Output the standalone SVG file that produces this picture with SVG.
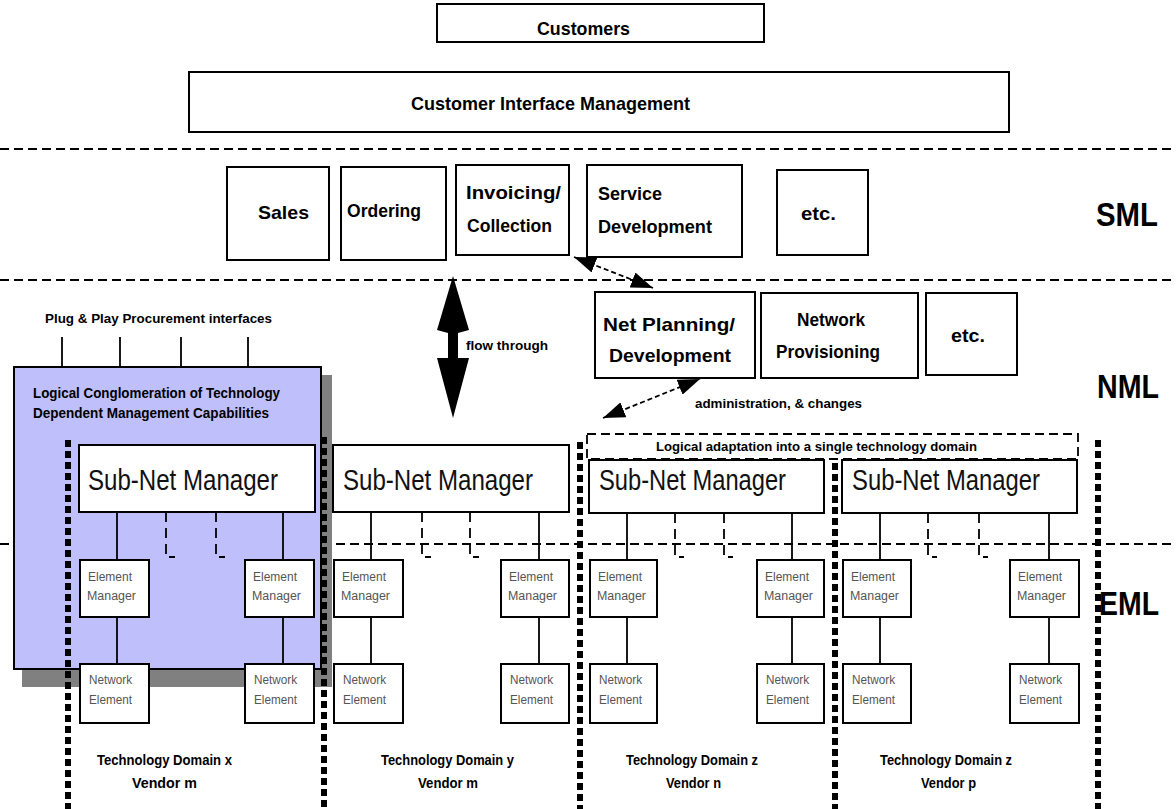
<svg xmlns="http://www.w3.org/2000/svg" width="1176" height="809" viewBox="0 0 1176 809">
  <defs>
    <style>
      .box { fill: #fff; stroke: #000; stroke-width: 2; }
      .t { font-family: "Liberation Sans", Arial, sans-serif; font-weight: bold; fill: #000; }
      .f19 { font-size: 19px; }
      .f13 { font-size: 13px; }
      .f15 { font-size: 15px; }
      .f14 { font-size: 14px; }
      .f12 { font-size: 12px; }
      .lay { font-size: 34px; }
      .snm { font-size: 30px; font-weight: normal; fill: #111; }
      .sm { font-size: 12px; font-weight: normal; fill: #555; }
      .sep { stroke: #000; stroke-width: 2; stroke-dasharray: 9 5; fill: none; }
      .dot { stroke: #000; stroke-width: 6; stroke-dasharray: 7 4; fill: none; }
      .link { stroke: #000; stroke-width: 1.8; fill: none; }
      .tick { stroke: #000; stroke-width: 1.8; stroke-dasharray: 10 6; fill: none; }
      .dlink { stroke: #000; stroke-width: 1.8; stroke-dasharray: 5 3; fill: none; }
    </style>
    <marker id="head" viewBox="0 0 22 16" refX="22" refY="8" markerWidth="22" markerHeight="16" markerUnits="userSpaceOnUse" orient="auto-start-reverse">
      <path d="M0 0 L22 8 L0 16 Z" fill="#000"/>
    </marker>
  </defs>

  <!-- layer separators -->
  <g id="layers">
    <line class="sep" x1="0" y1="149" x2="1176" y2="149"/>
    <line class="sep" x1="0" y1="280" x2="1176" y2="280"/>
    <line class="sep" x1="0" y1="544" x2="1176" y2="544"/>
  </g>

  <!-- layer names -->
  <g id="layer-labels">
    <text class="t lay" x="1096" y="226" textLength="62" lengthAdjust="spacingAndGlyphs">SML</text>
    <text class="t lay" x="1097" y="398" textLength="62" lengthAdjust="spacingAndGlyphs">NML</text>
    <text class="t lay" x="1099" y="615" textLength="60" lengthAdjust="spacingAndGlyphs">EML</text>
  </g>

  <g id="customers">
    <rect class="box" x="437" y="4" width="327" height="38"/>
    <text class="t f19" x="537" y="35" textLength="93" lengthAdjust="spacingAndGlyphs">Customers</text>
  </g>

  <g id="cim">
    <rect class="box" x="189" y="72" width="820" height="60"/>
    <text class="t f19" x="411" y="110" textLength="279" lengthAdjust="spacingAndGlyphs">Customer Interface Management</text>
  </g>

  <!-- service management layer -->
  <g id="sales">
    <rect class="box" x="227" y="167" width="102" height="93"/>
    <text class="t f19" x="258" y="219" textLength="51" lengthAdjust="spacingAndGlyphs">Sales</text>
  </g>
  <g id="ordering">
    <rect class="box" x="341" y="167" width="105" height="93"/>
    <text class="t f19" x="347" y="217" textLength="74" lengthAdjust="spacingAndGlyphs">Ordering</text>
  </g>
  <g id="invoicing">
    <rect class="box" x="456" y="165" width="113" height="90"/>
    <text class="t f19" x="466" y="199" textLength="95" lengthAdjust="spacingAndGlyphs">Invoicing/</text>
    <text class="t f19" x="467" y="232" textLength="85" lengthAdjust="spacingAndGlyphs">Collection</text>
  </g>
  <g id="service-dev">
    <rect class="box" x="587" y="165" width="155" height="92"/>
    <text class="t f19" x="598" y="200" textLength="64" lengthAdjust="spacingAndGlyphs">Service</text>
    <text class="t f19" x="598" y="233" textLength="114" lengthAdjust="spacingAndGlyphs">Development</text>
  </g>
  <g id="sml-etc">
    <rect class="box" x="777" y="170" width="91" height="85"/>
    <text class="t f19" x="801" y="220" textLength="35" lengthAdjust="spacingAndGlyphs">etc.</text>
  </g>

  <!-- network management layer -->
  <g id="net-planning">
    <rect class="box" x="595" y="292" width="160" height="86"/>
    <text class="t f19" x="603" y="331" textLength="132" lengthAdjust="spacingAndGlyphs">Net Planning/</text>
    <text class="t f19" x="609" y="362" textLength="122" lengthAdjust="spacingAndGlyphs">Development</text>
  </g>
  <g id="net-provisioning">
    <rect class="box" x="761" y="293" width="157" height="85"/>
    <text class="t f19" x="797" y="326" textLength="68" lengthAdjust="spacingAndGlyphs">Network</text>
    <text class="t f19" x="776" y="358" textLength="104" lengthAdjust="spacingAndGlyphs">Provisioning</text>
  </g>
  <g id="nml-etc">
    <rect class="box" x="926" y="293" width="91" height="82"/>
    <text class="t f19" x="951" y="342" textLength="34" lengthAdjust="spacingAndGlyphs">etc.</text>
  </g>

  <!-- plug and play interfaces -->
  <g id="plug-play">
    <text class="t f13" x="45" y="323" textLength="227" lengthAdjust="spacingAndGlyphs">Plug &amp; Play Procurement interfaces</text>
    <line class="link" x1="62" y1="337" x2="62" y2="367"/>
    <line class="link" x1="120" y1="337" x2="120" y2="367"/>
    <line class="link" x1="181" y1="337" x2="181" y2="367"/>
    <line class="link" x1="248" y1="337" x2="248" y2="367"/>
  </g>

  <!-- technology dependent conglomeration -->
  <g id="conglomeration">
    <rect x="22" y="375" width="310" height="312" fill="#808080"/>
    <rect x="14" y="367" width="307" height="302" fill="#bfbffc" stroke="#000" stroke-width="2"/>
    <text class="t f15" x="33" y="398" textLength="247" lengthAdjust="spacingAndGlyphs">Logical Conglomeration of Technology</text>
    <text class="t f15" x="33" y="418" textLength="236" lengthAdjust="spacingAndGlyphs">Dependent Management Capabilities</text>
  </g>

  <!-- domain boundaries -->
  <g id="domain-bounds">
    <line class="dot" x1="68" y1="440" x2="68" y2="809"/>
    <line class="dot" x1="324" y1="437" x2="324" y2="809"/>
    <line class="dot" x1="580" y1="442" x2="580" y2="809"/>
    <line class="dot" x1="835" y1="463" x2="835" y2="809"/>
    <line class="dot" x1="1098" y1="440" x2="1098" y2="809"/>
  </g>

  <g id="adaptation">
    <rect x="587" y="434" width="491" height="25" fill="none" stroke="#000" stroke-width="1.8" stroke-dasharray="9 5"/>
    <text class="t f12" x="656" y="451" textLength="321" lengthAdjust="spacingAndGlyphs">Logical adaptation into a single technology domain</text>
  </g>

  <!-- connectors -->
  <g id="connectors">
    <!-- big flow-through arrow -->
    <polygon points="453,276 469,330 458,333 458,358 469,358 453,418 437,358 448,358 448,333 437,330" fill="#000"/>
    <!-- SML to NML and NML to sub-networks -->
    <line class="dlink" x1="574" y1="257" x2="653" y2="288" marker-start="url(#head)" marker-end="url(#head)"/>
    <line class="dlink" x1="603" y1="418" x2="700" y2="379" marker-start="url(#head)" marker-end="url(#head)"/>

    <!-- domain x -->
    <line class="link" x1="117" y1="512" x2="117" y2="560"/>
    <line class="link" x1="283" y1="512" x2="283" y2="560"/>
    <path class="tick" d="M166 512 V557 H175"/>
    <path class="tick" d="M216 512 V557 H225"/>
    <line class="link" x1="117" y1="617" x2="117" y2="664"/>
    <line class="link" x1="283" y1="617" x2="283" y2="664"/>
    <!-- domain y -->
    <line class="link" x1="371" y1="512" x2="371" y2="560"/>
    <line class="link" x1="539" y1="512" x2="539" y2="560"/>
    <path class="tick" d="M422 512 V557 H431"/>
    <path class="tick" d="M470 512 V557 H479"/>
    <line class="link" x1="371" y1="617" x2="371" y2="664"/>
    <line class="link" x1="539" y1="617" x2="539" y2="664"/>
    <!-- domain z, vendor n -->
    <line class="link" x1="627" y1="513" x2="627" y2="560"/>
    <line class="link" x1="792" y1="513" x2="792" y2="560"/>
    <path class="tick" d="M675 513 V557 H684"/>
    <path class="tick" d="M724 513 V557 H733"/>
    <line class="link" x1="627" y1="617" x2="627" y2="664"/>
    <line class="link" x1="792" y1="617" x2="792" y2="664"/>
    <!-- domain z, vendor p -->
    <line class="link" x1="880" y1="513" x2="880" y2="560"/>
    <line class="link" x1="1049" y1="513" x2="1049" y2="560"/>
    <path class="tick" d="M928 513 V557 H937"/>
    <path class="tick" d="M979 513 V557 H988"/>
    <line class="link" x1="880" y1="617" x2="880" y2="664"/>
    <line class="link" x1="1049" y1="617" x2="1049" y2="664"/>
  </g>

  <g id="flow-labels">
    <text class="t f13" x="466" y="350" textLength="82" lengthAdjust="spacingAndGlyphs">flow through</text>
    <text class="t f13" x="695" y="408" textLength="167" lengthAdjust="spacingAndGlyphs">administration, &amp; changes</text>
  </g>

  <!-- sub-network managers -->
  <g id="snm-x">
    <rect class="box" x="79" y="445" width="236" height="67"/>
    <text class="t snm" x="88" y="490" textLength="190" lengthAdjust="spacingAndGlyphs">Sub-Net Manager</text>
  </g>
  <g id="snm-y">
    <rect class="box" x="333" y="445" width="236" height="67"/>
    <text class="t snm" x="343" y="490" textLength="190" lengthAdjust="spacingAndGlyphs">Sub-Net Manager</text>
  </g>
  <g id="snm-zn">
    <rect class="box" x="589" y="460" width="235" height="53"/>
    <text class="t snm" x="599" y="490" textLength="187" lengthAdjust="spacingAndGlyphs">Sub-Net Manager</text>
  </g>
  <g id="snm-zp">
    <rect class="box" x="842" y="460" width="235" height="53"/>
    <text class="t snm" x="852" y="490" textLength="188" lengthAdjust="spacingAndGlyphs">Sub-Net Manager</text>
  </g>

  <!-- element managers -->
  <g id="em-x1"><rect class="box" x="80" y="560" width="69" height="57"/><text class="t sm" x="88" y="581" textLength="44" lengthAdjust="spacingAndGlyphs">Element</text><text class="t sm" x="87" y="600" textLength="49" lengthAdjust="spacingAndGlyphs">Manager</text></g>
  <g id="em-x2"><rect class="box" x="245" y="560" width="69" height="57"/><text class="t sm" x="253" y="581" textLength="44" lengthAdjust="spacingAndGlyphs">Element</text><text class="t sm" x="252" y="600" textLength="49" lengthAdjust="spacingAndGlyphs">Manager</text></g>
  <g id="em-y1"><rect class="box" x="334" y="560" width="69" height="57"/><text class="t sm" x="342" y="581" textLength="44" lengthAdjust="spacingAndGlyphs">Element</text><text class="t sm" x="341" y="600" textLength="49" lengthAdjust="spacingAndGlyphs">Manager</text></g>
  <g id="em-y2"><rect class="box" x="501" y="560" width="68" height="57"/><text class="t sm" x="509" y="581" textLength="44" lengthAdjust="spacingAndGlyphs">Element</text><text class="t sm" x="508" y="600" textLength="49" lengthAdjust="spacingAndGlyphs">Manager</text></g>
  <g id="em-zn1"><rect class="box" x="590" y="560" width="67" height="57"/><text class="t sm" x="598" y="581" textLength="44" lengthAdjust="spacingAndGlyphs">Element</text><text class="t sm" x="597" y="600" textLength="49" lengthAdjust="spacingAndGlyphs">Manager</text></g>
  <g id="em-zn2"><rect class="box" x="757" y="560" width="67" height="57"/><text class="t sm" x="765" y="581" textLength="44" lengthAdjust="spacingAndGlyphs">Element</text><text class="t sm" x="764" y="600" textLength="49" lengthAdjust="spacingAndGlyphs">Manager</text></g>
  <g id="em-zp1"><rect class="box" x="843" y="560" width="68" height="57"/><text class="t sm" x="851" y="581" textLength="44" lengthAdjust="spacingAndGlyphs">Element</text><text class="t sm" x="850" y="600" textLength="49" lengthAdjust="spacingAndGlyphs">Manager</text></g>
  <g id="em-zp2"><rect class="box" x="1010" y="560" width="69" height="57"/><text class="t sm" x="1018" y="581" textLength="44" lengthAdjust="spacingAndGlyphs">Element</text><text class="t sm" x="1017" y="600" textLength="49" lengthAdjust="spacingAndGlyphs">Manager</text></g>

  <!-- network elements -->
  <g id="ne-x1"><rect class="box" x="80" y="664" width="69" height="59"/><text class="t sm" x="89" y="684" textLength="43" lengthAdjust="spacingAndGlyphs">Network</text><text class="t sm" x="89" y="704" textLength="43" lengthAdjust="spacingAndGlyphs">Element</text></g>
  <g id="ne-x2"><rect class="box" x="245" y="664" width="69" height="59"/><text class="t sm" x="254" y="684" textLength="43" lengthAdjust="spacingAndGlyphs">Network</text><text class="t sm" x="254" y="704" textLength="43" lengthAdjust="spacingAndGlyphs">Element</text></g>
  <g id="ne-y1"><rect class="box" x="334" y="664" width="69" height="59"/><text class="t sm" x="343" y="684" textLength="43" lengthAdjust="spacingAndGlyphs">Network</text><text class="t sm" x="343" y="704" textLength="43" lengthAdjust="spacingAndGlyphs">Element</text></g>
  <g id="ne-y2"><rect class="box" x="501" y="664" width="68" height="59"/><text class="t sm" x="510" y="684" textLength="43" lengthAdjust="spacingAndGlyphs">Network</text><text class="t sm" x="510" y="704" textLength="43" lengthAdjust="spacingAndGlyphs">Element</text></g>
  <g id="ne-zn1"><rect class="box" x="590" y="664" width="67" height="59"/><text class="t sm" x="599" y="684" textLength="43" lengthAdjust="spacingAndGlyphs">Network</text><text class="t sm" x="599" y="704" textLength="43" lengthAdjust="spacingAndGlyphs">Element</text></g>
  <g id="ne-zn2"><rect class="box" x="757" y="664" width="67" height="59"/><text class="t sm" x="766" y="684" textLength="43" lengthAdjust="spacingAndGlyphs">Network</text><text class="t sm" x="766" y="704" textLength="43" lengthAdjust="spacingAndGlyphs">Element</text></g>
  <g id="ne-zp1"><rect class="box" x="843" y="664" width="68" height="59"/><text class="t sm" x="852" y="684" textLength="43" lengthAdjust="spacingAndGlyphs">Network</text><text class="t sm" x="852" y="704" textLength="43" lengthAdjust="spacingAndGlyphs">Element</text></g>
  <g id="ne-zp2"><rect class="box" x="1010" y="664" width="69" height="59"/><text class="t sm" x="1019" y="684" textLength="43" lengthAdjust="spacingAndGlyphs">Network</text><text class="t sm" x="1019" y="704" textLength="43" lengthAdjust="spacingAndGlyphs">Element</text></g>

  <!-- domain captions -->
  <g id="domain-labels">
    <text class="t f14" x="97" y="765" textLength="135" lengthAdjust="spacingAndGlyphs">Technology Domain x</text>
    <text class="t f14" x="132" y="788" textLength="65" lengthAdjust="spacingAndGlyphs">Vendor m</text>
    <text class="t f14" x="381" y="765" textLength="133" lengthAdjust="spacingAndGlyphs">Technology Domain y</text>
    <text class="t f14" x="418" y="788" textLength="60" lengthAdjust="spacingAndGlyphs">Vendor m</text>
    <text class="t f14" x="626" y="765" textLength="132" lengthAdjust="spacingAndGlyphs">Technology Domain z</text>
    <text class="t f14" x="666" y="788" textLength="55" lengthAdjust="spacingAndGlyphs">Vendor n</text>
    <text class="t f14" x="880" y="765" textLength="132" lengthAdjust="spacingAndGlyphs">Technology Domain z</text>
    <text class="t f14" x="921" y="788" textLength="55" lengthAdjust="spacingAndGlyphs">Vendor p</text>
  </g>
</svg>
